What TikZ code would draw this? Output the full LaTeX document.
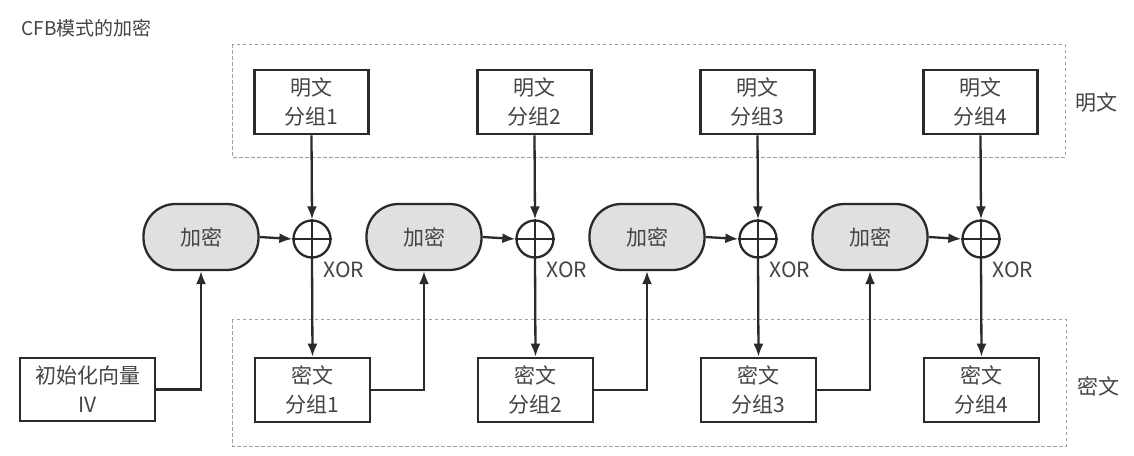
\documentclass[tikz,border=0pt]{standalone}
\usepackage{fontspec}
\setmainfont{Noto Sans CJK SC}
\usetikzlibrary{arrows.meta}
\definecolor{ink}{HTML}{2A2A2A}
\definecolor{txt}{HTML}{444444}
\definecolor{ovalfill}{HTML}{E0E0E0}
\begin{document}
\begin{tikzpicture}[x=1pt,y=-1pt,
  every node/.style={text=txt,font=\fontsize{21}{29}\selectfont},
  blockbox/.style={draw=ink,line width=2.6pt,minimum width=114pt,minimum height=64pt,align=center,inner sep=0pt},
  encbox/.style={draw=ink,line width=2.3pt,fill=ovalfill,rounded corners=32pt,minimum width=115pt,minimum height=66pt,inner sep=0pt},
  xorc/.style={draw=ink,line width=2.3pt,circle,minimum size=37pt,inner sep=0pt},
  conn/.style={draw=ink,line width=2.3pt,-{Latex[length=13pt,width=10pt]}},
  group/.style={draw=gray!75,line width=1pt,dash pattern=on 3.5pt off 2.5pt},
  lbl/.style={font=\fontsize{21}{24}\selectfont}]
\useasboundingbox (0,0) rectangle (1134,455);
\fill[white] (0,0) rectangle (1134,455);
% title
\node[anchor=west,font=\fontsize{19}{22}\selectfont] (title) at (18,28) {CFB模式的加密};
% group frames
\draw[group] (232,44) rectangle (1065,157);
\draw[group] (232,319) rectangle (1066,446);
\node[lbl] (ptl) at (1096,103) {明文};
\node[lbl] (ctl) at (1098,386) {密文};
% IV
\node[blockbox,minimum width=135pt,minimum height=63pt] (iv) at (87.5,389.5) {初始化向量\\IV};
\foreach \i in {1,2,3,4}{
  \pgfmathsetmacro{\dx}{223*(\i-1)}
  \node[blockbox] (p\i) at (311.5+\dx,102) {明文\\分组\i};
  \node[xorc] (x\i) at (312+\dx,239) {};
  \draw[ink,line width=2.3pt] (x\i.north) -- (x\i.south) (x\i.west) -- (x\i.east);
  \node[encbox] (e\i) at (201+\dx,237) {加密};
  \node[blockbox,minimum width=115pt] (c\i) at (312.5+\dx,390) {密文\\分组\i};
  \node (xl\i) at (344+\dx,270) {XOR};
  \draw[conn] (p\i.south) -- (x\i.north);
  \draw[conn] (e\i.east) -- (x\i.west);
  \draw[conn] (x\i.south) -- (c\i.north);
}
\draw[conn] (iv.east) -| (e1.south);
\draw[conn] (c1.east) -| (e2.south);
\draw[conn] (c2.east) -| (e3.south);
\draw[conn] (c3.east) -| (e4.south);
\end{tikzpicture}
\end{document}
